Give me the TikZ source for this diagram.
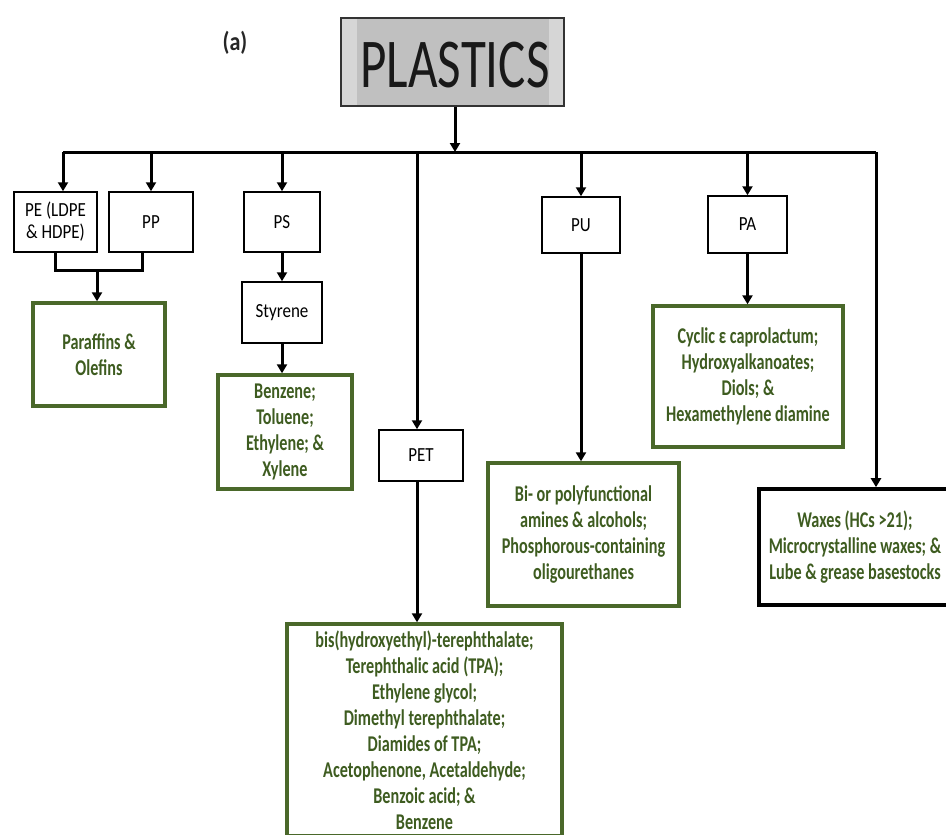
\documentclass[tikz,border=0pt]{standalone}
\usepackage{fontspec}
\setmainfont{Carlito}
\newfontfamily\plfont{Carlito}[FakeStretch=0.73]
\newfontfamily\labfont{Carlito}[FakeStretch=0.85]
\newfontfamily\grfont{Carlito}[FakeStretch=0.72]
\usetikzlibrary{arrows.meta}
\definecolor{gborder}{RGB}{74,104,42}
\definecolor{gtext}{RGB}{62,92,32}
\definecolor{boxgray}{RGB}{192,192,192}
\definecolor{stripgray}{RGB}{214,214,214}
\tikzset{
  conn/.style={line width=3pt, draw=black},
  arr/.style={conn, -{Triangle[length=9pt,width=10pt]}},
  blackbox/.style={draw=black, line width=1.5pt, fill=white, align=center, inner sep=0pt,
    font=\labfont\fontsize{20}{22}\selectfont},
  greenbox/.style={draw=gborder, line width=3.4pt, fill=white, align=center, inner sep=0pt,
    text=gtext, font=\grfont\fontsize{22.5}{26}\selectfont\bfseries},
  waxbox/.style={greenbox, draw=black, line width=3.6pt},
}
\begin{document}
\begin{tikzpicture}[x=1pt,y=-1pt]
\clip (0,0) rectangle (946,835);
\fill[white] (0,0) rectangle (946,835);

% title
\node[font=\labfont\fontsize{26}{28}\selectfont\bfseries, text=black!85] (lbl) at (235,43) {(a)};
\fill[stripgray] (341,18) rectangle (564,106);
\fill[boxgray] (357,18) rectangle (549,106);
\node[draw=black!80, line width=1.5pt, minimum width=223pt, minimum height=88pt, inner sep=0pt] (plastics) at (452.5,62) {};
\node[font=\plfont\fontsize{70}{72}\selectfont, text=black!90] (pltext) at (455,65) {PLASTICS};

% first level boxes
\node[blackbox, minimum width=83pt, minimum height=60pt] (pe) at (55.5,222) {PE (LDPE\\\& HDPE)};
\node[blackbox, minimum width=84pt, minimum height=60pt] (pp) at (151,222) {PP};
\node[blackbox, minimum width=76pt, minimum height=60pt] (ps) at (282,222) {PS};
\node[blackbox, minimum width=84pt, minimum height=51pt] (pet) at (421,455.5) {PET};
\node[blackbox, minimum width=78pt, minimum height=56pt] (pu) at (581,225) {PU};
\node[blackbox, minimum width=79pt, minimum height=57pt] (pa) at (747.5,224.5) {PA};
\node[blackbox, minimum width=80pt, minimum height=61pt] (styrene) at (282,312.5) {Styrene};

% product boxes
\node[greenbox, minimum width=132pt, minimum height=103pt] (paraffins) at (99,354.5) {Paraffins \&\\Olefins};
\node[greenbox, minimum width=134pt, minimum height=114pt] (btex) at (285,432) {Benzene;\\Toluene;\\Ethylene; \&\\Xylene};
\node[greenbox, minimum width=275pt, minimum height=212pt] (petout) at (424.5,730) {bis(hydroxyethyl)-terephthalate;\\Terephthalic acid (TPA);\\Ethylene glycol;\\Dimethyl terephthalate;\\Diamides of TPA;\\Acetophenone, Acetaldehyde;\\Benzoic acid; \&\\Benzene};
\node[greenbox, minimum width=191pt, minimum height=143pt] (puout) at (583.5,534.5) {Bi- or polyfunctional\\amines \& alcohols;\\Phosphorous-containing\\oligourethanes};
\node[greenbox, minimum width=190pt, minimum height=141pt] (paout) at (748,376.5) {Cyclic ε caprolactum;\\Hydroxyalkanoates;\\Diols; \&\\Hexamethylene diamine};
\node[waxbox, minimum width=192pt, minimum height=116pt] (waxes) at (855,547) {Waxes (HCs >21);\\Microcrystalline waxes; \&\\Lube \& grease basestocks};

% bus
\coordinate (busL) at (63,152);
\coordinate (busR) at (876,152);
\coordinate (bPE) at (63,152);
\coordinate (bPET) at (417,152);
\coordinate (bPlast) at (455,152);
\draw[arr] (bPlast |- plastics.south) -- (bPlast);
\draw[conn] (busL) -- (busR);
\draw[arr] (busR) -- (busR |- waxes.north);
\draw[arr] (bPE) -- (bPE |- pe.north);
\draw[arr] (pp.north |- busL) -- (pp.north);
\draw[arr] (ps.north |- busL) -- (ps.north);
\draw[arr] (bPET) -- (bPET |- pet.north);
\draw[arr] (pu.north |- busL) -- (pu.north);
\draw[arr] (pa.north |- busL) -- (pa.north);

% PE/PP join
\coordinate (jl) at (55,270);
\coordinate (jr) at (142,270);
\coordinate (jm) at (97,270);
\draw[conn] (jl |- pe.south) -- (jl) -- (jr) -- (jr |- pp.south);
\draw[arr] (jm) -- (jm |- paraffins.north);

% chains
\draw[arr] (ps.south) -- (styrene.north);
\draw[arr] (styrene.south) -- (styrene.south |- btex.north);
\draw[arr] (bPET |- pet.south) -- (bPET |- petout.north);
\draw[arr] (pu.south) -- (pu.south |- puout.north);
\draw[arr] (pa.south) -- (pa.south |- paout.north);
\end{tikzpicture}
\end{document}
